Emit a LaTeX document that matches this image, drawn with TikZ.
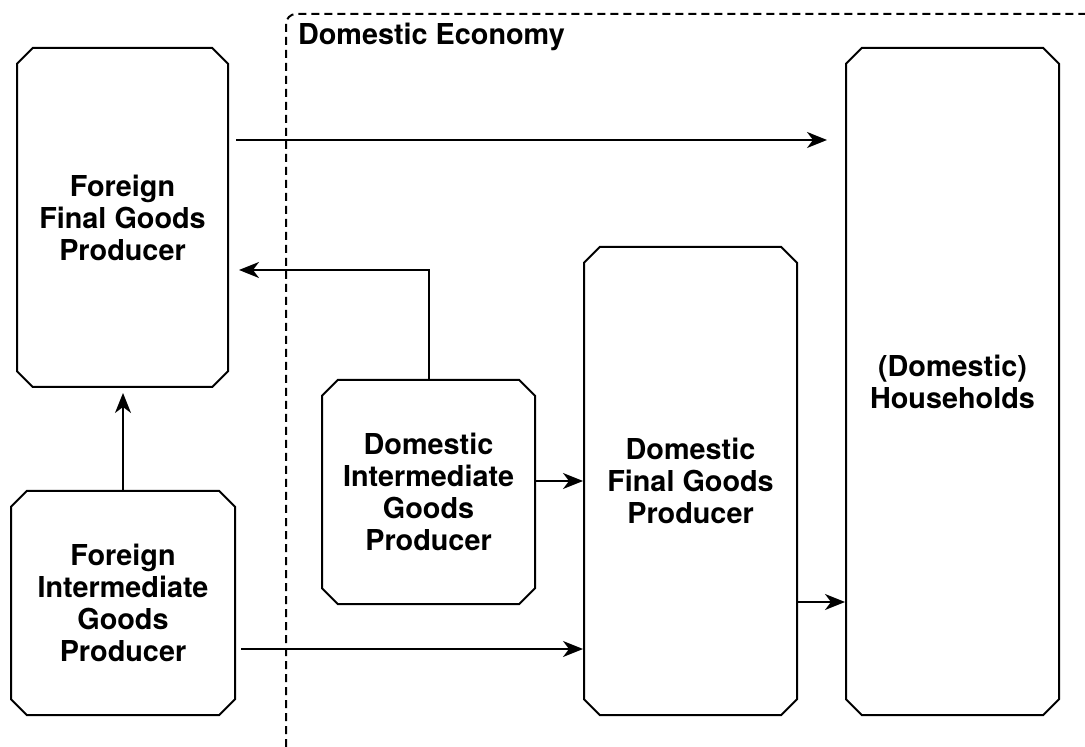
\documentclass[tikz,border=0pt]{standalone}
\usepackage{fontspec}
\setmainfont{TeX Gyre Heros}
\usetikzlibrary{shapes.misc, arrows.meta}
\tikzset{
    every node/.style = {font=\fontsize{14.4}{16}\selectfont\bfseries, align=center},
    agent/.style = {draw, line width=1pt, chamfered rectangle, chamfered rectangle xsep=3.95pt, chamfered rectangle ysep=3.95pt, inner sep=0pt},
    flow/.style = {line width=1pt, -{Stealth[length=10pt, width=8pt, inset=3pt]}},
    region/.style = {line width=1pt, dash pattern=on 4pt off 2.5pt, rounded corners=5pt}
}
\begin{document}
\begin{tikzpicture}[x=0.5pt, y=-0.5pt]
    \useasboundingbox (0,0) rectangle (1085,747);
    \draw[region] (286,747) -- (286,14) -- (1085,14);
    \node[anchor=base west] (dom) at (291,45) {Domestic Economy};

    \node[agent, minimum width=105.5pt, minimum height=169.5pt] (ffgp) at (122.5,217.5) {Foreign\\Final Goods\\Producer};
    \node[agent, minimum width=112pt, minimum height=112pt] (figp) at (123,603) {Foreign\\Intermediate\\Goods\\Producer};
    \node[agent, minimum width=106.5pt, minimum height=112pt] (digp) at (428.5,492) {Domestic\\Intermediate\\Goods\\Producer};
    \node[agent, minimum width=106.5pt, minimum height=234pt] (dfgp) at (690.5,481) {Domestic\\Final Goods\\Producer};
    \node[agent, minimum width=106.5pt, minimum height=333.5pt] (hh) at (952.5,381.5) {(Domestic)\\Households};

    \draw[flow, shorten <=3.5pt, shorten >=9pt] ([yshift=38.75pt]ffgp.east) -- ([yshift=38.75pt]ffgp.east -| hh.west);
    \draw[flow, shorten >=5pt] (digp.north) |- ([yshift=-26.25pt]ffgp.east);
    \draw[flow, shorten >=2.5pt] (figp.north) -- (figp.north |- ffgp.south);
    \draw[flow] ([yshift=5.5pt]digp.east) -- ([yshift=5.5pt]digp.east -| dfgp.west);
    \draw[flow, shorten <=2.5pt] ([yshift=-23pt]figp.east) -- ([yshift=-23pt]figp.east -| dfgp.west);
    \draw[flow] ([yshift=-60.5pt]dfgp.east) -- ([yshift=-60.5pt]dfgp.east -| hh.west);
\end{tikzpicture}
\end{document}
